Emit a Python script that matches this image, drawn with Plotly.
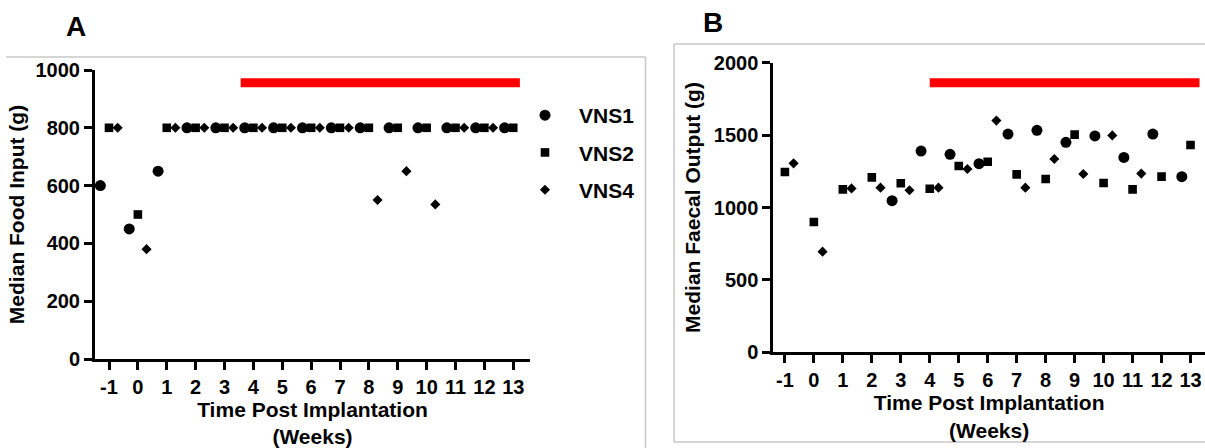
import plotly.graph_objects as go

W, H = 1205, 448

# ---------------- data ----------------
weeks = [-1, 0, 1, 2, 3, 4, 5, 6, 7, 8, 9, 10, 11, 12, 13]
week_labels = ["-1", "0", "1", "2", "3", "4", "5", "6", "7", "8", "9", "10", "11", "12", "13"]
series_names = ["VNS1", "VNS2", "VNS4"]

# Panel A: median food input (g)
food_vns1 = [600, 450, 650, 800, 800, 800, 800, 800, 800, 800, 800, 800, 800, 800, 800]
food_vns2 = [800, 500, 800, 800, 800, 800, 800, 800, 800, 800, 800, 800, 800, 800, 800]
food_vns4 = [800, 380, 800, 800, 800, 800, 800, 800, 800, 550, 650, 535, 800, 800, None]

# Panel B: median faecal output (g)
faecal_vns1 = [None, None, None, None, 1047, 1390, 1367, 1303, 1507, 1533, 1450, 1494, 1346, 1507, 1213]
faecal_vns2 = [1245, 900, 1125, 1208, 1167, 1130, 1287, 1316, 1229, 1197, 1503, 1169, 1125, 1213, 1432]
faecal_vns4 = [1305, 695, 1132, 1137, 1119, 1137, 1266, 1600, 1137, 1335, 1231, 1498, 1234, None, None]

# stimulation period bars (weeks) and their plotted level
stim_A_span = [3.56, 13.23]
stim_A_level = 956
stim_B_span = [4.0, 13.31]
stim_B_level = 1861

# ---------------- style ----------------
FONT = "Liberation Sans, Arial, sans-serif"
offsets = [-0.3, 0.0, 0.3]
symbols = ["circle", "square", "diamond"]
sizes = [11, 8.6, 7.8]


def px_x(p):
    return p / W


def px_y(p):
    return 1 - p / H


fig = go.Figure()

panels = [
    ("x", "y", [food_vns1, food_vns2, food_vns4], stim_A_span, stim_A_level, True),
    ("x2", "y2", [faecal_vns1, faecal_vns2, faecal_vns4], stim_B_span, stim_B_level, False),
]

for xa, ya, data, span, level, show in panels:
    fig.add_trace(go.Scatter(
        x=span, y=[level, level], mode="lines",
        line=dict(color="#ff0000", width=9),
        xaxis=xa, yaxis=ya, showlegend=False, hoverinfo="skip"))
    for i, vals in enumerate(data):
        fig.add_trace(go.Scatter(
            x=[w + offsets[i] for w in weeks], y=vals, mode="markers",
            name=series_names[i], legendgroup=series_names[i],
            marker=dict(symbol=symbols[i], size=sizes[i], color="black",
                        line=dict(width=0)),
            xaxis=xa, yaxis=ya, showlegend=show))

axis_common = dict(
    showline=True, linecolor="black", linewidth=3, mirror=False,
    ticks="outside", ticklen=8, tickwidth=3, tickcolor="black",
    showgrid=False, zeroline=False,
    tickfont=dict(family=FONT, size=20, color="black", weight="bold"),
    automargin=False,
)

xtitle = dict(text="<b>Time Post Implantation<br>(Weeks)</b>",
              font=dict(family=FONT, size=21, color="black"), standoff=6)

fig.update_layout(
    width=W, height=H,
    margin=dict(l=0, r=0, t=0, b=0),
    paper_bgcolor="white", plot_bgcolor="white",
    xaxis=dict(domain=[px_x(95), px_x(530)], range=[-1.485, 13.58],
               tickmode="array", tickvals=weeks, ticktext=week_labels,
               anchor="y", title=xtitle, **axis_common),
    yaxis=dict(domain=[px_y(359), px_y(70)], range=[0, 1000],
               tickvals=[0, 200, 400, 600, 800, 1000],
               anchor="x",
               title=dict(text="<b>Median Food Input (g)</b>",
                          font=dict(family=FONT, size=21, color="black"), standoff=6),
               **axis_common),
    xaxis2=dict(domain=[px_x(773.3), 1.0], range=[-1.4, 13.5],
                tickmode="array", tickvals=weeks, ticktext=week_labels,
                anchor="y2", title=xtitle, **axis_common),
    yaxis2=dict(domain=[px_y(352.3), px_y(62.7)], range=[0, 2000],
                tickvals=[0, 500, 1000, 1500, 2000],
                anchor="x2",
                title=dict(text="<b>Median Faecal Output (g)</b>",
                           font=dict(family=FONT, size=21, color="black"), standoff=8),
                **axis_common),
    legend=dict(x=px_x(511), y=px_y(95), xanchor="left", yanchor="top",
                font=dict(family=FONT, size=21, color="black", weight="bold"),
                tracegroupgap=7, traceorder="grouped", itemwidth=58,
                bgcolor="rgba(0,0,0,0)"),
    annotations=[
        dict(text="<b>A</b>", x=px_x(76), y=px_y(26), xref="paper", yref="paper",
             xanchor="center", yanchor="middle",
             showarrow=False, font=dict(family=FONT, size=28, color="black")),
        dict(text="<b>B</b>", x=px_x(713), y=px_y(22), xref="paper", yref="paper",
             xanchor="center", yanchor="middle",
             showarrow=False, font=dict(family=FONT, size=28, color="black")),
    ],
    shapes=[
        # panel frames (light grey)
        dict(type="line", xref="paper", yref="paper", x0=px_x(6), x1=px_x(645.5),
             y0=px_y(57), y1=px_y(57), line=dict(color="#c8c8c8", width=1.5)),
        dict(type="line", xref="paper", yref="paper", x0=px_x(645.5), x1=px_x(645.5),
             y0=px_y(57), y1=0, line=dict(color="#c8c8c8", width=1.5)),
        dict(type="line", xref="paper", yref="paper", x0=px_x(674), x1=px_x(674),
             y0=px_y(44), y1=px_y(442), line=dict(color="#c8c8c8", width=1.5)),
        dict(type="line", xref="paper", yref="paper", x0=px_x(674), x1=1.0,
             y0=px_y(44), y1=px_y(44), line=dict(color="#c8c8c8", width=1.5)),
        dict(type="line", xref="paper", yref="paper", x0=px_x(674), x1=1.0,
             y0=px_y(442), y1=px_y(442), line=dict(color="#c8c8c8", width=1.5)),
    ],
)

# remove the page's default body margin so the 1205x448 figure fills the window exactly
fig.write_html(
    "out.html",
    config={"displayModeBar": False},
    post_script="document.body.style.margin='0px';document.body.style.overflow='hidden';",
)
